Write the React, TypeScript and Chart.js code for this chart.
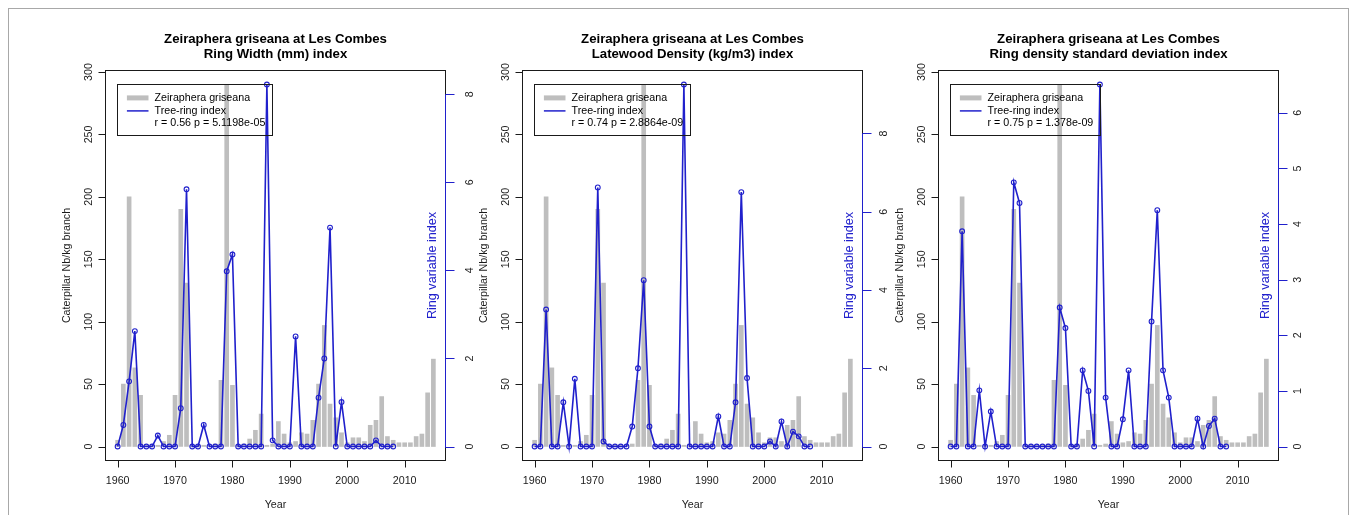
import React, { useEffect, useRef } from "react";
import { Chart, registerables } from "chart.js";

Chart.register(...registerables);

// ---------- DATA ----------
const years = [
  1960, 1961, 1962, 1963, 1964, 1965, 1966, 1967, 1968, 1969,
  1970, 1971, 1972, 1973, 1974, 1975, 1976, 1977, 1978, 1979,
  1980, 1981, 1982, 1983, 1984, 1985, 1986, 1987, 1988, 1989,
  1990, 1991, 1992, 1993, 1994, 1995, 1996, 1997, 1998, 1999,
  2000, 2001, 2002, 2003, 2004, 2005, 2006, 2007, 2008, 2009,
  2010, 2011, 2012, 2013, 2014, 2015,
];
const caterpillarNb = [
  5, 50, 200, 63, 41, 1, 1, 1, 4, 9,
  41, 190, 131, 1, 1, 1, 1, 2, 53, 290,
  49, 1, 2, 6, 13, 26, 1, 2, 20, 10,
  3, 4, 11, 10, 21, 50, 97, 34, 23, 11,
  3, 7, 7, 4, 17, 21, 40, 8, 5, 3,
  3, 3, 8, 10, 43, 70,
];
const ringYears = [
  1960, 1961, 1962, 1963, 1964, 1965, 1966, 1967, 1968, 1969,
  1970, 1971, 1972, 1973, 1974, 1975, 1976, 1977, 1978, 1979,
  1980, 1981, 1982, 1983, 1984, 1985, 1986, 1987, 1988, 1989,
  1990, 1991, 1992, 1993, 1994, 1995, 1996, 1997, 1998, 1999,
  2000, 2001, 2002, 2003, 2004, 2005, 2006, 2007, 2008,
];
const ringWidthIndex = [
  0, 0.49, 1.48, 2.62, 0, 0, 0, 0.25, 0, 0,
  0, 0.87, 5.84, 0, 0, 0.49, 0, 0, 0, 3.98,
  4.36, 0, 0, 0, 0, 0, 8.22, 0.14, 0, 0,
  0, 2.5, 0, 0, 0, 1.11, 2.0, 4.97, 0, 1.01,
  0, 0, 0, 0, 0, 0.14, 0, 0, 0,
];
const latewoodDensityIndex = [
  0, 0, 3.5, 0, 0, 1.13, 0, 1.73, 0, 0,
  0, 6.62, 0.13, 0, 0, 0, 0, 0.51, 2.0, 4.25,
  0.51, 0, 0, 0, 0, 0, 9.25, 0, 0, 0,
  0, 0, 0.77, 0, 0, 1.13, 6.5, 1.75, 0, 0,
  0, 0.13, 0, 0.64, 0, 0.38, 0.26, 0, 0,
];
const densitySdIndex = [
  0, 0, 3.87, 0, 0, 1.01, 0, 0.63, 0, 0,
  0, 4.75, 4.38, 0, 0, 0, 0, 0, 0, 2.5,
  2.13, 0, 0, 1.37, 1.0, 0, 6.51, 0.88, 0, 0,
  0.49, 1.37, 0, 0, 0, 2.25, 4.25, 1.37, 0.88, 0,
  0, 0, 0, 0.5, 0, 0.37, 0.5, 0, 0,
];
const xTicks = [1960, 1970, 1980, 1990, 2000, 2010];
const leftTicks = [0, 50, 100, 150, 200, 250, 300];
const ringWidthTicks = [0, 2, 4, 6, 8];
const latewoodTicks = [0, 2, 4, 6, 8];
const densitySdTicks = [0, 1, 2, 3, 4, 5, 6];

const mainTitle = "Zeiraphera griseana at Les Combes";
const subTitles = [
  "Ring Width (mm) index",
  "Latewood Density (kg/m3) index",
  "Ring density standard deviation index",
];
const statTexts = [
  "r = 0.56 p = 5.1198e-05",
  "r = 0.74 p = 2.8864e-09",
  "r = 0.75 p = 1.378e-09",
];
const seriesLabels = ["Zeiraphera griseana", "Tree-ring index"];
const xTitle = "Year";
const leftTitle = "Caterpillar Nb/kg branch";
const rightTitle = "Ring variable index";

// ---------- LAYOUT / STYLE ----------
const FONT = "'Liberation Sans', Arial, Helvetica, sans-serif";
const BLUE = "#2020cc";
const GREY = "#bebebe";
const INK = "#1a1a1a";
const PAGE_TOP = 8;
const BOX_LEFTS = [105, 522, 938];
const BOX_W = 341;
const PAD_L = 100;
const PAD_R = 70;
const CANVAS_W = PAD_L + BOX_W + PAD_R;
const CANVAS_H = 507;
const PAD_T = 70 - PAGE_TOP;
const PAD_B = CANVAS_H - (461 - PAGE_TOP);
const RIGHT_LABEL_OFF = [27, 24, 22];

function rotText(ctx: CanvasRenderingContext2D, text: string, x: number, y: number) {
  ctx.save();
  ctx.translate(x, y);
  ctx.rotate(-Math.PI / 2);
  ctx.textAlign = "center";
  ctx.textBaseline = "alphabetic";
  ctx.fillText(text, 0, 0);
  ctx.restore();
}

function makePlugin(idx: number, rTicks: number[]) {
  return {
    id: "rstyle" + idx,
    afterDraw(chart: any) {
      const { ctx, chartArea: ca, scales } = chart;
      const xs = scales.x;
      const ys = scales.y;
      const yr = scales.y1;
      const L = Math.round(ca.left) + 0.5;
      const R = Math.round(ca.right) - 0.5;
      const T = Math.round(ca.top) + 0.5;
      const B = Math.round(ca.bottom) - 0.5;
      const cx = (ca.left + ca.right) / 2;
      const cy = (ca.top + ca.bottom) / 2;
      ctx.save();

      // titles
      ctx.fillStyle = "#000";
      ctx.textAlign = "center";
      ctx.textBaseline = "alphabetic";
      ctx.font = `bold 13.2px ${FONT}`;
      ctx.fillText(mainTitle, cx, 43 - PAGE_TOP);
      ctx.fillText(subTitles[idx], cx, 58 - PAGE_TOP);

      // box
      ctx.strokeStyle = INK;
      ctx.lineWidth = 1;
      ctx.strokeRect(L, T, R - L, B - T);

      // x axis
      ctx.beginPath();
      const xa = Math.round(xs.getPixelForValue(xTicks[0])) + 0.5;
      const xb = Math.round(xs.getPixelForValue(xTicks[xTicks.length - 1])) + 0.5;
      ctx.moveTo(xa, B);
      ctx.lineTo(xb, B);
      xTicks.forEach((t) => {
        const px = Math.round(xs.getPixelForValue(t)) + 0.5;
        ctx.moveTo(px, B);
        ctx.lineTo(px, B + 7);
      });
      ctx.stroke();
      ctx.font = `10.7px ${FONT}`;
      ctx.fillStyle = INK;
      ctx.textAlign = "center";
      xTicks.forEach((t) => {
        ctx.fillText(String(t), xs.getPixelForValue(t), 484 - PAGE_TOP);
      });
      ctx.fillText(xTitle, cx, 508 - PAGE_TOP);

      // left axis
      ctx.beginPath();
      const ya = Math.round(ys.getPixelForValue(leftTicks[0])) + 0.5;
      const yb = Math.round(ys.getPixelForValue(leftTicks[leftTicks.length - 1])) + 0.5;
      ctx.moveTo(L, ya);
      ctx.lineTo(L, yb);
      leftTicks.forEach((t) => {
        const py = Math.round(ys.getPixelForValue(t)) + 0.5;
        ctx.moveTo(L, py);
        ctx.lineTo(L - 7, py);
      });
      ctx.stroke();
      leftTicks.forEach((t) => {
        rotText(ctx, String(t), ca.left - 13.5, ys.getPixelForValue(t));
      });
      rotText(ctx, leftTitle, ca.left - 35, cy);

      // right axis (blue)
      ctx.strokeStyle = BLUE;
      ctx.beginPath();
      const ra = Math.round(yr.getPixelForValue(rTicks[0])) + 0.5;
      const rb = Math.round(yr.getPixelForValue(rTicks[rTicks.length - 1])) + 0.5;
      ctx.moveTo(R, ra);
      ctx.lineTo(R, rb);
      rTicks.forEach((t) => {
        const py = Math.round(yr.getPixelForValue(t)) + 0.5;
        ctx.moveTo(R, py);
        ctx.lineTo(R + 9, py);
      });
      ctx.stroke();
      ctx.fillStyle = INK;
      rTicks.forEach((t) => {
        rotText(ctx, String(t), ca.right + RIGHT_LABEL_OFF[idx], yr.getPixelForValue(t));
      });
      ctx.fillStyle = BLUE;
      ctx.font = `12.6px ${FONT}`;
      rotText(ctx, rightTitle, ca.right - 10, cy);

      // legend
      ctx.font = `10.7px ${FONT}`;
      const tw = Math.max(...[...seriesLabels, statTexts[idx]].map((s) => ctx.measureText(s).width));
      const lx = Math.round(ca.left + 12.3) + 0.5;
      const ly = Math.round(ca.top + 14.3) + 0.5;
      const lw = Math.round(37 + tw + 7);
      const lh = 51;
      ctx.strokeStyle = INK;
      ctx.lineWidth = 1;
      ctx.strokeRect(lx, ly, lw, lh);
      const rows = [13.4, 26.4, 39];
      ctx.strokeStyle = GREY;
      ctx.lineWidth = 5;
      ctx.beginPath();
      ctx.moveTo(lx + 9.4, ly + rows[0]);
      ctx.lineTo(lx + 31, ly + rows[0]);
      ctx.stroke();
      ctx.strokeStyle = BLUE;
      ctx.lineWidth = 1.5;
      ctx.beginPath();
      ctx.moveTo(lx + 9.4, ly + rows[1]);
      ctx.lineTo(lx + 31, ly + rows[1]);
      ctx.stroke();
      ctx.fillStyle = "#000";
      ctx.textAlign = "left";
      ctx.textBaseline = "middle";
      ctx.fillText(seriesLabels[0], lx + 37, ly + rows[0]);
      ctx.fillText(seriesLabels[1], lx + 37, ly + rows[1]);
      ctx.fillText(statTexts[idx], lx + 37, ly + rows[2]);

      ctx.restore();
    },
  };
}

function Panel({ idx, ring, rTicks }: { idx: number; ring: number[]; rTicks: number[] }) {
  const ref = useRef<HTMLCanvasElement>(null);
  useEffect(() => {
    const canvas = ref.current;
    if (!canvas) return;
    const catMax = Math.max(...caterpillarNb);
    const ringMax = Math.max(...ring);
    const xPad = (years[years.length - 1] - years[0]) * 0.04;
    const chart = new Chart(canvas, {
      type: "bar",
      data: {
        datasets: [
          {
            type: "line",
            label: seriesLabels[1],
            data: ringYears.map((yr, i) => ({ x: yr, y: ring[i] })),
            yAxisID: "y1",
            borderColor: BLUE,
            borderWidth: 1.6,
            tension: 0,
            pointRadius: 2.4,
            pointBorderWidth: 1.1,
            pointBorderColor: BLUE,
            pointBackgroundColor: "rgba(255,255,255,0)",
            clip: false,
            order: 0,
          } as any,
          {
            type: "bar",
            label: seriesLabels[0],
            data: years.map((yr, i) => ({ x: yr, y: caterpillarNb[i] })),
            yAxisID: "y",
            backgroundColor: GREY,
            borderWidth: 0,
            barThickness: 4,
            order: 1,
          } as any,
        ],
      },
      options: {
        animation: false,
        responsive: false,
        devicePixelRatio: 1,
        layout: { padding: { left: PAD_L, right: PAD_R, top: PAD_T, bottom: PAD_B } },
        plugins: { legend: { display: false }, title: { display: false }, tooltip: { enabled: false } },
        scales: {
          x: {
            type: "linear",
            display: false,
            offset: false,
            min: years[0] - xPad,
            max: years[years.length - 1] + xPad,
          },
          y: {
            type: "linear",
            display: false,
            min: -catMax * 0.04,
            max: catMax * 1.04,
          },
          y1: {
            type: "linear",
            display: false,
            position: "right",
            min: -ringMax * 0.04,
            max: ringMax * 1.04,
          },
        },
      },
      plugins: [makePlugin(idx, rTicks)],
    } as any);
    return () => chart.destroy();
  }, [idx, ring, rTicks]);
  return (
    <canvas
      ref={ref}
      width={CANVAS_W}
      height={CANVAS_H}
      style={{
        position: "absolute",
        left: BOX_LEFTS[idx] - PAD_L - 8,
        top: 0,
        width: CANVAS_W,
        height: CANVAS_H,
      }}
    />
  );
}

export default function App() {
  useEffect(() => {
    document.documentElement.style.overflow = "hidden";
    document.body.style.overflow = "hidden";
  }, []);
  return (
    <div style={{ position: "relative", width: 1341, height: CANVAS_H, background: "#fff" }}>
      <div
        style={{
          position: "absolute",
          left: 0,
          top: 0,
          width: 1341,
          height: CANVAS_H + 10,
          boxSizing: "border-box",
          borderTop: "1px solid #a8a8a8",
          borderLeft: "1px solid #a8a8a8",
          borderRight: "1px solid #a8a8a8",
        }}
      />
      <Panel idx={0} ring={ringWidthIndex} rTicks={ringWidthTicks} />
      <Panel idx={1} ring={latewoodDensityIndex} rTicks={latewoodTicks} />
      <Panel idx={2} ring={densitySdIndex} rTicks={densitySdTicks} />
    </div>
  );
}
